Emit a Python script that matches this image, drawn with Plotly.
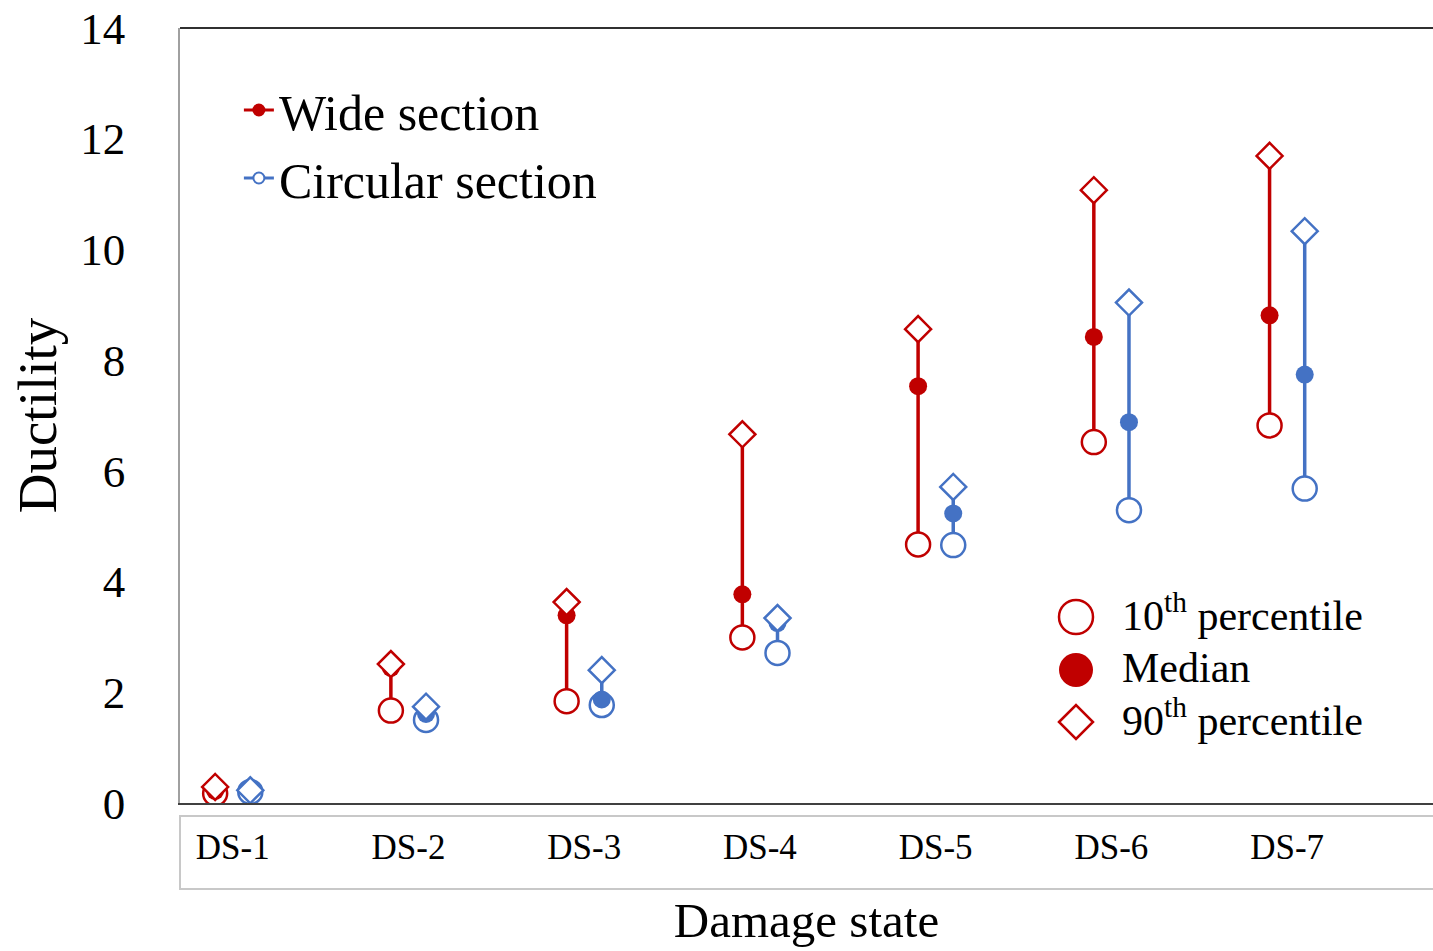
import plotly.graph_objects as go

# ---------------- data ----------------
categories = ["DS-1", "DS-2", "DS-3", "DS-4", "DS-5", "DS-6", "DS-7"]
wide_p10 = [0.17, 1.67, 1.84, 2.99, 4.67, 6.52, 6.82]
wide_med = [0.22, 2.44, 3.39, 3.77, 7.53, 8.42, 8.81]
wide_p90 = [0.29, 2.51, 3.63, 6.66, 8.56, 11.07, 11.69]
circ_p10 = [0.20, 1.50, 1.77, 2.71, 4.66, 5.29, 5.68]
circ_med = [0.21, 1.61, 1.87, 3.25, 5.23, 6.88, 7.74]
circ_p90 = [0.23, 1.74, 2.40, 3.34, 5.71, 9.04, 10.33]
y_ticks = [0, 2, 4, 6, 8, 10, 12, 14]

RED = "#C00000"
BLUE = "#4472C4"
FONT = "Liberation Serif"

series = [
    ("Wide section", wide_p10, wide_med, wide_p90, RED, -0.1),
    ("Circular section", circ_p10, circ_med, circ_p90, BLUE, 0.1),
]

fig = go.Figure()
pos = list(range(1, len(categories) + 1))

for name, p10, med, p90, col, off in series:
    xs = [p + off for p in pos]
    lx, ly = [], []
    for x, a, b in zip(xs, p10, p90):
        lx += [x, x, None]
        ly += [a, b, None]
    fig.add_trace(go.Scatter(x=lx, y=ly, mode="lines", line=dict(color=col, width=3.5),
                             showlegend=False, hoverinfo="skip"))
    fig.add_trace(go.Scatter(x=xs, y=p10, mode="markers", showlegend=False,
                             marker=dict(symbol="circle", size=24, color="white",
                                         line=dict(color=col, width=2.5))))
    fig.add_trace(go.Scatter(x=xs, y=med, mode="markers", showlegend=False,
                             marker=dict(symbol="circle", size=18, color=col,
                                         line=dict(width=0))))
    fig.add_trace(go.Scatter(x=xs, y=p90, mode="markers", showlegend=False,
                             marker=dict(symbol="diamond", size=20, color="white",
                                         line=dict(color=col, width=2.5))))

# legend-only entries for the two sections
fig.add_trace(go.Scatter(x=[None], y=[None], mode="lines+markers", name="Wide section",
                         line=dict(color=RED, width=3),
                         marker=dict(symbol="circle", size=13, color=RED)))
fig.add_trace(go.Scatter(x=[None], y=[None], mode="lines+markers", name="Circular section",
                         line=dict(color=BLUE, width=3),
                         marker=dict(symbol="circle", size=11, color="white",
                                     line=dict(color=BLUE, width=2))))

# ---------------- layout ----------------
W, H = 1433, 951
L, R, T, B = 180, 0, 28, 148
plot_h = H - T - B

def py(pix):
    return (H - B - pix) / plot_h

shapes = []
# top frame line
shapes.append(dict(type="line", xref="paper", yref="paper", x0=0, x1=1, y0=1, y1=1,
                   line=dict(color="#303030", width=2)))
# category label box below the axis
shapes.append(dict(type="rect", xref="paper", yref="paper", x0=0, x1=1.05,
                   y0=py(889), y1=py(816), line=dict(color="#C8C8C8", width=2),
                   fillcolor="rgba(0,0,0,0)"))

# marker-type key (symbols as shapes, text as annotations)
kx = (1076 - L) / (W - L - R)
key_rows = [(617, "10<sup>th</sup> percentile", "open"),
            (670, "Median", "filled"),
            (722, "90<sup>th</sup> percentile", "diamond")]
annotations = []
for pix, label, kind in key_rows:
    yy = py(pix)
    if kind == "diamond":
        shapes.append(dict(type="path", xref="paper", yref="paper",
                           xsizemode="pixel", ysizemode="pixel", xanchor=kx, yanchor=yy,
                           path="M -17 0 L 0 17 L 17 0 L 0 -17 Z",
                           line=dict(color=RED, width=2.5), fillcolor="white"))
    else:
        shapes.append(dict(type="circle", xref="paper", yref="paper",
                           xsizemode="pixel", ysizemode="pixel", xanchor=kx, yanchor=yy,
                           x0=-17, x1=17, y0=-17, y1=17,
                           line=dict(color=RED, width=2.5 if kind == "open" else 0),
                           fillcolor="white" if kind == "open" else RED))
    shift = 5 if "sup" in label else 2
    annotations.append(dict(xref="paper", yref="paper", x=(1120 - L) / (W - L - R),
                            y=py(pix - shift),
                            xanchor="left", yanchor="middle", showarrow=False, text=label,
                            font=dict(family=FONT, size=42, color="black")))

fig.update_layout(
    width=W, height=H,
    margin=dict(l=L, r=R, t=T, b=B, pad=0),
    paper_bgcolor="white", plot_bgcolor="white",
    font=dict(family=FONT, color="black"),
    showlegend=True,
    legend=dict(x=0.047, y=py(71), xanchor="left", yanchor="top",
                bgcolor="rgba(0,0,0,0)", borderwidth=0,
                font=dict(family=FONT, size=50, color="black"),
                itemsizing="trace", tracegroupgap=0),
    shapes=shapes,
    annotations=annotations,
    xaxis=dict(range=[0.70, 7.83], tickmode="array", tickvals=pos, ticktext=categories,
               showgrid=False, zeroline=False, showline=True, linecolor="#404040", linewidth=2,
               ticks="outside", ticklen=12, tickcolor="rgba(0,0,0,0)",
               tickfont=dict(family=FONT, size=35, color="black"),
               title=dict(text="Damage state", font=dict(family=FONT, size=49, color="black"),
                          standoff=37)),
    yaxis=dict(range=[0, 14], tickmode="array", tickvals=y_ticks,
               showgrid=False, zeroline=False, showline=True, linecolor="#A0A0A0", linewidth=1.5,
               ticks="outside", ticklen=44, tickcolor="rgba(0,0,0,0)",
               tickfont=dict(family=FONT, size=45, color="black"),
               title=dict(text="Ductility", font=dict(family=FONT, size=55, color="black"),
                          standoff=6)),
)

fig.write_html("out.html")
